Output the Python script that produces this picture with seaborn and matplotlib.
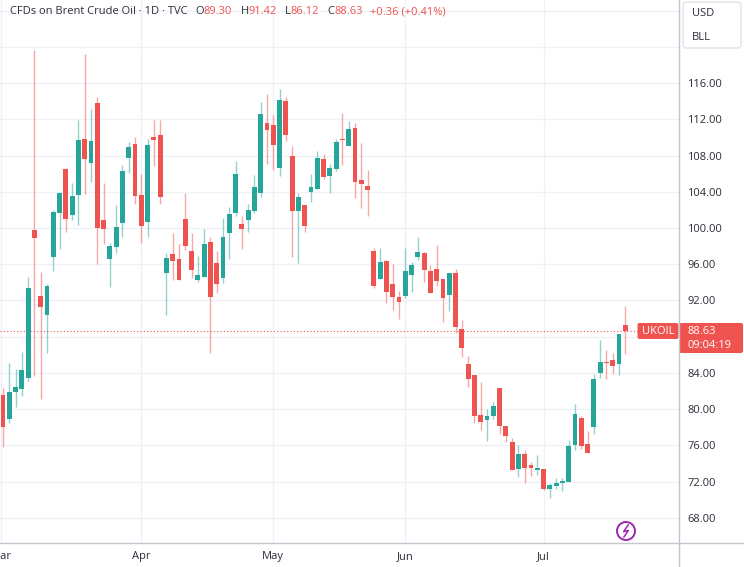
import numpy as np
import pandas as pd
import matplotlib
matplotlib.use("Agg")
import matplotlib.pyplot as plt
from matplotlib.patches import FancyBboxPatch, Circle
import seaborn as sns

# daily candles (Brent CFD)
opens = [81.6, 78.9, 81.9, 82.2, 83.5, 99.8, 92.5, 90.4, 96.85, 101.7,
         106.5, 101.4, 103.6, 109.8, 107.2, 113.8, 100.9, 96.6, 97.9, 100.6,
         107.75, 109.3, 103.6, 100.7, 110.0, 110.3, 95.0, 97.1, 96.6, 101.0,
         97.5, 94.3, 94.6, 98.45, 96.1, 94.5, 99.4, 101.7, 100.4, 100.9,
         101.85, 103.9, 111.6, 111.4, 106.6, 114.05, 107.9, 101.9, 102.5, 104.0,
         104.3, 107.6, 105.7, 106.55, 109.85, 109.1, 111.0, 105.3, 104.6, 97.5,
         94.4, 96.4, 93.8, 92.35, 92.5, 94.8, 96.8, 97.2, 95.3, 95.5,
         94.4, 92.6, 95.0, 88.8, 85.0, 83.8, 79.4, 78.8, 79.2, 82.3,
         78.15, 76.4, 73.4, 75.05, 73.9, 73.35, 73.45, 71.2, 71.55, 71.9,
         72.0, 76.05, 79.0, 76.2, 78.0, 84.0, 85.25, 85.4, 85.0, 89.3]
highs = [82.35, 85.1, 84.4, 86.3, 94.6, 119.6, 95.1, 93.8, 102.0, 104.0,
         106.6, 105.0, 111.9, 119.2, 113.1, 114.5, 105.0, 98.4, 102.5, 107.0,
         109.5, 110.0, 106.0, 109.8, 111.9, 111.9, 97.2, 99.5, 98.2, 103.9,
         99.5, 96.9, 99.85, 99.0, 97.5, 101.1, 102.35, 107.4, 101.3, 102.65,
         105.85, 113.9, 114.8, 112.5, 115.3, 114.5, 109.0, 103.9, 102.5, 106.0,
         108.5, 108.2, 107.1, 109.8, 112.7, 111.8, 111.55, 109.35, 106.4, 97.75,
         97.8, 96.5, 96.0, 93.0, 97.8, 96.3, 99.0, 97.4, 95.9, 98.1,
         94.4, 95.0, 95.45, 89.9, 85.9, 83.8, 83.0, 80.0, 80.8, 82.3,
         78.15, 76.8, 76.05, 75.5, 74.2, 74.9, 73.45, 71.9, 72.45, 72.45,
         76.6, 80.6, 79.2, 77.55, 83.9, 87.6, 86.5, 86.25, 88.3, 91.42]
lows = [75.8, 78.5, 80.3, 81.5, 83.15, 83.7, 81.1, 86.2, 95.2, 97.7,
        99.6, 100.9, 100.3, 103.75, 105.1, 96.0, 98.2, 93.5, 97.2, 99.05,
        106.1, 102.65, 98.4, 99.05, 106.8, 102.7, 90.4, 94.3, 94.3, 97.6,
        94.45, 94.0, 94.55, 86.2, 92.8, 93.9, 96.6, 101.3, 97.65, 99.55,
        101.7, 103.4, 107.1, 106.4, 105.7, 109.6, 96.8, 96.1, 99.6, 102.9,
        104.3, 105.4, 103.9, 106.3, 106.95, 109.1, 103.3, 102.25, 101.35, 93.35,
        94.4, 91.75, 90.9, 90.0, 92.25, 92.9, 96.5, 94.0, 92.8, 93.6,
        89.6, 90.8, 88.45, 85.8, 82.4, 78.5, 77.7, 76.5, 78.9, 77.3,
        76.4, 73.3, 72.5, 71.9, 72.6, 72.7, 71.1, 70.2, 71.2, 71.0,
        72.0, 75.5, 75.6, 75.15, 77.3, 83.4, 83.3, 83.9, 83.8, 86.12]
closes = [78.0, 81.9, 82.5, 84.3, 93.35, 98.9, 91.3, 93.6, 101.8, 103.9,
          101.0, 103.5, 109.7, 107.6, 109.6, 100.0, 99.85, 98.05, 100.1, 106.3,
          108.9, 103.5, 100.2, 109.2, 109.7, 103.45, 96.7, 96.4, 94.3, 98.0,
          95.4, 94.85, 98.2, 92.4, 93.8, 99.05, 101.6, 106.0, 99.9, 102.0,
          104.5, 112.6, 110.85, 109.2, 114.1, 110.3, 101.9, 103.4, 100.2, 104.55,
          107.7, 105.65, 106.6, 109.5, 109.7, 110.9, 105.1, 104.9, 104.2, 93.6,
          96.3, 92.9, 92.4, 91.8, 95.25, 95.9, 97.35, 95.4, 92.8, 94.1,
          92.3, 95.0, 89.1, 86.8, 83.3, 79.3, 78.6, 79.2, 80.4, 78.1,
          77.0, 73.3, 75.05, 73.55, 73.55, 73.45, 71.2, 71.6, 71.9, 72.05,
          75.9, 79.5, 75.9, 75.15, 83.3, 85.2, 85.05, 84.8, 88.3, 88.63]

month_pos = [-0.3, 22, 43, 64, 86]
month_labels = ["Mar", "Apr", "May", "Jun", "Jul"]
price_ticks = list(range(68, 125, 4))
last_price = 88.63

up_col = "#26a69a"
down_col = "#ef5350"
text_col = "#2a2e39"
fs = 8

sns.set_theme(style="white")
plt.rcParams["font.family"] = ["Open Sans", "DejaVu Sans"]

df = pd.DataFrame({"open": opens, "high": highs, "low": lows, "close": closes})
df["i"] = np.arange(len(df))
df["col"] = np.where(df["close"] >= df["open"], up_col, down_col)
df["bottom"] = df[["open", "close"]].min(axis=1)
df["height"] = (df["close"] - df["open"]).abs().clip(lower=0.15)

W, H = 744, 567
AX_R = 679
fig = plt.figure(figsize=(W / 100, H / 100), dpi=100)
fig.patch.set_facecolor("white")
ax = fig.add_axes([0, 24 / H, AX_R / W, 543 / H])

# candles
ax.vlines(df["i"], df["low"], df["high"], colors=df["col"], alpha=0.5, lw=1, zorder=2)
ax.bar(df["i"], df["height"], bottom=df["bottom"], width=0.78, color=df["col"],
       linewidth=0, zorder=3)
ax.axhline(last_price, color=down_col, lw=0.8, ls=(0, (1, 2)), zorder=1)

ax.set_xlim(-0.477, (AX_R - 3) / 6.286)
ax.set_ylim(65.24, 125.16)
ax.set_yticks(price_ticks)
ax.set_yticklabels(["" if v in (88, 120, 124) else f"{v:.2f}" for v in price_ticks])
ax.yaxis.tick_right()
ax.set_xticks(month_pos)
ax.set_xticklabels(month_labels)
ax.tick_params(axis="y", length=0, pad=5.8, labelsize=fs, labelcolor=text_col)
ax.tick_params(axis="x", length=0, pad=6, labelsize=fs, labelcolor=text_col)
ax.grid(True, color="#eff1f6", lw=1)
for s in ax.spines.values():
    s.set_visible(False)

# overlay in pixel coordinates for the TradingView chrome
ov = fig.add_axes([0, 0, 1, 1], zorder=5)
ov.set_xlim(0, W)
ov.set_ylim(H, 0)
ov.axis("off")
ov.patch.set_alpha(0)

ov.plot([0, W], [543, 543], color="#c3c6ce", lw=1)
ov.plot([AX_R, AX_R], [0, H], color="#c3c6ce", lw=1)

# currency / unit box
ov.add_patch(FancyBboxPatch((683, 2), 58, 46, boxstyle="round,pad=0,rounding_size=3",
                            fc="white", ec="#e0e3eb", lw=1))
ov.text(692, 13, "USD", fontsize=fs, color=text_col, va="center")
ov.text(692, 37, "BLL", fontsize=fs, color=text_col, va="center")

# last price labels
ov.add_patch(FancyBboxPatch((637.5, 323), 41, 16, boxstyle="round,pad=0,rounding_size=2",
                            fc=down_col, ec="none"))
ov.text(658, 331.5, "UKOIL", fontsize=fs, color="white", ha="center", va="center")
ov.add_patch(FancyBboxPatch((679, 323), 64, 30, boxstyle="round,pad=0,rounding_size=2",
                            fc=down_col, ec="none"))
ov.text(688, 331.5, "88.63", fontsize=fs, color="white", va="center")
ov.text(688, 346, "09:04:19", fontsize=fs, color="white", va="center")

# lightning icon
ov.add_patch(Circle((626, 531), 9, fc="white", ec="#9c27b0", lw=1.4))
ov.plot([628.3, 623.6, 628.4, 623.8], [524.8, 531.6, 530.4, 537.2], color="#9c27b0", lw=1.1)

# header line, placed piece by piece
pieces = [("CFDs on Brent Crude Oil · 1D · TVC", text_col, 8),
          ("O", text_col, 0), ("89.30", down_col, 8),
          ("H", text_col, 0), ("91.42", down_col, 8),
          ("L", text_col, 0), ("86.12", down_col, 8),
          ("C", text_col, 0), ("88.63", down_col, 7),
          ("+0.36 (+0.41%)", down_col, 0)]
fig.canvas.draw()
renderer = fig.canvas.get_renderer()
x = 10
for txt, col, gap in pieces:
    t = ov.text(x, 12, txt, fontsize=fs, color=col, va="center")
    bb = t.get_window_extent(renderer=renderer)
    x += bb.width + gap

fig.savefig("out.png", dpi=100)
